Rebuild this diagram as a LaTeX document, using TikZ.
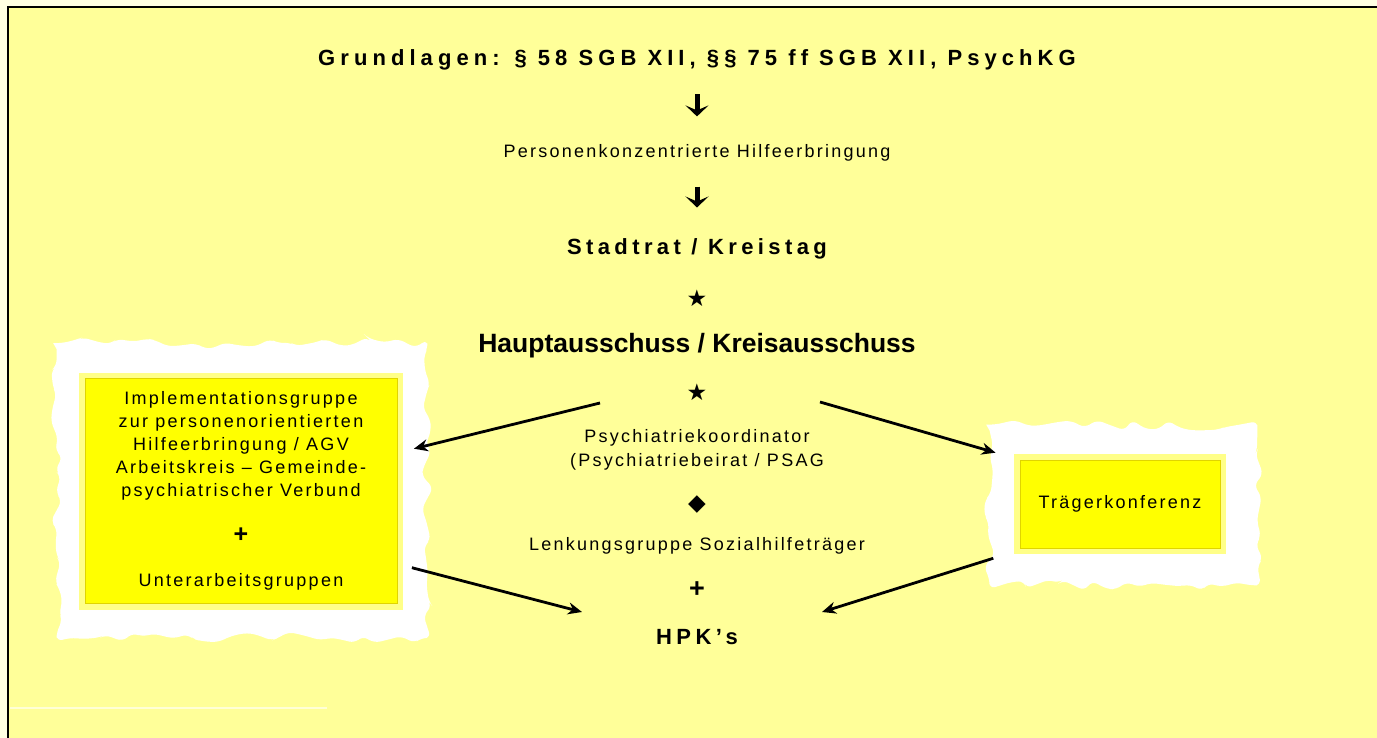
\documentclass[tikz,border=0pt]{standalone}
\usepackage{fontspec}
\setmainfont{Liberation Sans}
\newfontfamily\spaced[LetterSpace=12.5]{Liberation Sans}
\newfontfamily\wide[LetterSpace=20]{Liberation Sans}
\newfontfamily\widest[LetterSpace=23]{Liberation Sans}
\newfontfamily\symfont{DejaVu Sans}
\usetikzlibrary{arrows.meta,positioning,calc,backgrounds,decorations.pathmorphing}
\definecolor{paper}{HTML}{FFFF99}
\definecolor{margin}{HTML}{FFFFE3}
\definecolor{boxfill}{HTML}{FFFF00}
\definecolor{boxring}{HTML}{FFFF88}
\definecolor{boxedge}{HTML}{E0D400}

\begin{document}
\begin{tikzpicture}[
        x=1pt, y=-1pt, on grid,
        heading/.style={inner sep=0pt, font=\wide\bfseries\fontsize{22}{26}\selectfont},
        board/.style={inner sep=0pt, font=\bfseries\fontsize{26.5}{31}\selectfont},
        level/.style={inner sep=0pt, align=center, font=\spaced\fontsize{18}{24}\selectfont},
        sep/.style={inner sep=0pt, font=\symfont\fontsize{23}{26}\selectfont},
        plussign/.style={inner sep=0pt, font=\bfseries\fontsize{27}{30}\selectfont},
        group/.style={rectangle, fill=boxfill, draw=boxedge, line width=0.8pt, preaction={draw=boxring, line width=12pt}, align=center, font=\spaced\fontsize{18}{23}\selectfont},
        fuzz/.style={fill=white, decorate, decoration={random steps, segment length=12pt, amplitude=6pt}, rounded corners=6pt},
        arrow/.style={line width=5pt, -{Stealth[length=11pt, width=23pt, inset=5pt]}},
        link/.style={line width=2.8pt, -{Stealth[length=14pt, width=12pt]}},
    ]
    \useasboundingbox (0,0) rectangle (1377,738);

    % Page
    \begin{scope}[on background layer]
        \fill[margin] (0,0) rectangle (1377,738);
        \fill[paper] (8,7) rectangle (1377,738);
        \draw[line width=2pt] (8,738) -- (8,7) -- (1377,7);
        \draw[paper!40!white, line width=1.5pt] (10,708) -- (327,708);
    \end{scope}

    % Middle column
    \node[heading, font=\widest\bfseries\fontsize{22}{26}\selectfont] (basis) at (697,60) {Grundlagen: § 58 SGB XII, §§ 75 ff SGB XII, PsychKG};
    \node[level, below=93pt of basis] (pers) {Personenkonzentrierte Hilfeerbringung};
    \node[heading, below=96pt of pers] (rat) {Stadtrat / Kreistag};
    \node[sep, below=49pt of rat] (starA) {★};
    \node[board, below=48pt of starA] (ausschuss) {Hauptausschuss / Kreisausschuss};
    \node[sep, below=46pt of ausschuss] (starB) {★};
    \node[level, below=58pt of starB] (koord) {Psychiatriekoordinator\\(Psychiatriebeirat / PSAG};
    \node[sep, below=55pt of koord] (raute) {◆};
    \node[level, below=41pt of raute] (lenkung) {Lenkungsgruppe Sozialhilfeträger};
    \node[plussign, below=44pt of lenkung] (plus) {+};
    \node[heading, below=47pt of plus] (hpk) {HPK’s};

    % Side boxes
    \node[group, minimum width=312pt, minimum height=225pt] (impl) at (241,491)
        {Implementationsgruppe\\zur personenorientierten\\Hilfeerbringung / AGV\\Arbeitskreis – Gemeinde-\\psychiatrischer Verbund\\[23pt]{\bfseries\fontsize{25}{23}\selectfont +}\\[21pt]Unterarbeitsgruppen};
    \node[group, minimum width=200pt, minimum height=88pt] (traeger) at (1120,504) {Trägerkonferenz};

    \begin{scope}[on background layer]
        \fill[fuzz] ([shift={(-28,-35)}]impl.north west) rectangle ([shift={(30,34)}]impl.south east);
        \fill[fuzz] ([shift={(-30,-35)}]traeger.north west) rectangle ([shift={(37,37)}]traeger.south east);
    \end{scope}

    % Free ends
    \coordinate (spreadL) at (600,403);
    \coordinate (spreadR) at (820,402);
    \coordinate (intoL) at (582,612);
    \coordinate (intoR) at (822,612);

    % Connections
    \draw[arrow, shorten <=24pt, shorten >=28pt] (basis) -- (pers);
    \draw[arrow, shorten <=25pt, shorten >=31pt] (pers) -- (rat);

    \draw[link, shorten >=17pt] (spreadL) -- (impl);
    \draw[link, shorten >=25pt] (spreadR) -- (traeger.north west);
    \draw[link, shorten <=15pt] (impl.-25) -- (intoL);
    \draw[link, shorten <=33pt] (traeger.-155) -- (intoR);

\end{tikzpicture}
\end{document}
